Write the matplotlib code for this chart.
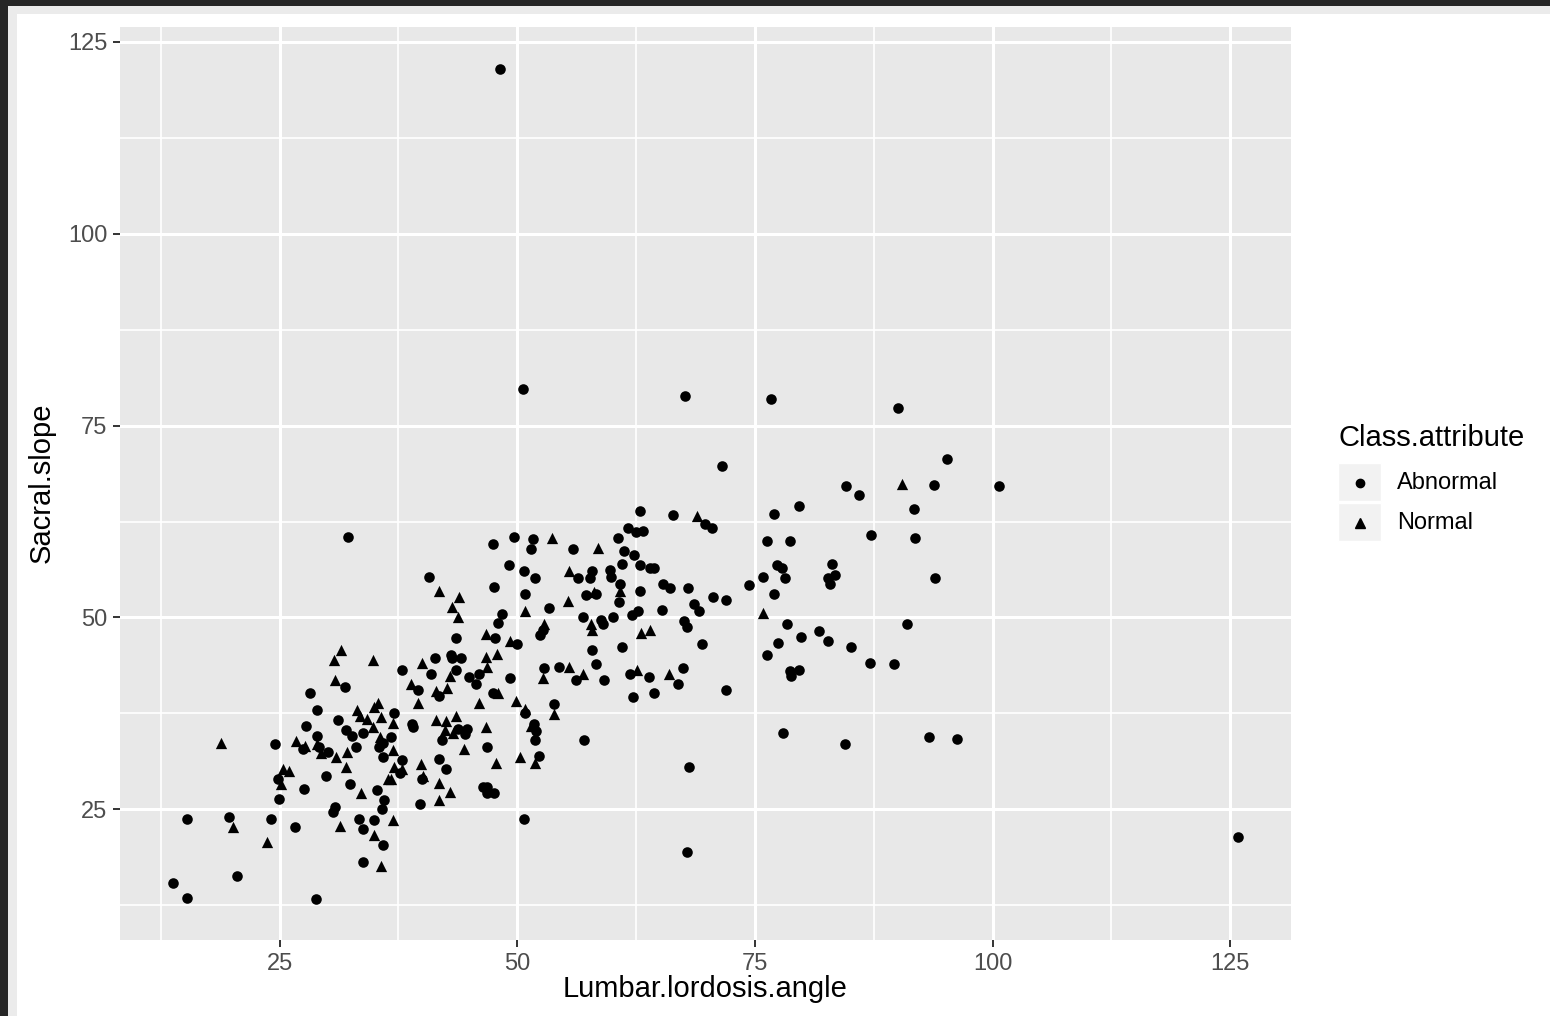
import matplotlib
matplotlib.use("Agg")
import matplotlib.pyplot as plt
from matplotlib.patches import Rectangle
from matplotlib.lines import Line2D
import numpy as np

# values (Lumbar.lordosis.angle, Sacral.slope)
abnormal_x = [
    48.2, 50.6, 67.6, 76.7, 90.1, 95.2, 71.5, 100.7, 84.6, 85.9, 93.8, 91.7, 79.6, 87.2, 91.8,
    93.9, 91.0, 89.6, 87.1, 85.1, 93.3, 96.3, 84.5, 78.0, 68.1, 67.9, 50.7, 125.8, 32.2, 72.0,
    62.9, 66.4, 69.7, 70.5, 77.0, 61.6, 62.5, 63.2, 76.3, 78.7, 62.3, 62.9, 64.0, 64.4, 83.1,
    77.3, 77.9, 75.9, 78.2, 82.7, 83.4, 82.9, 74.4, 65.3, 66.1, 68.0, 62.9, 77.0, 70.6, 72.0,
    68.6, 69.1, 65.2, 62.7, 62.1, 67.5, 67.9, 69.4, 78.4, 77.4, 79.8, 81.7, 82.7,
    76.3, 78.7, 79.6, 78.8, 63.9, 67.4, 66.9, 64.4, 62.2,
    60.6, 47.4, 49.7, 51.6, 51.4, 55.9, 61.2, 61.0, 49.1, 50.7, 51.9, 40.7, 56.4, 57.6, 57.9,
    59.8, 59.9, 60.8, 47.6, 50.8, 57.2, 58.3, 60.7, 53.3, 48.4, 48.0, 56.9, 58.8, 59.0, 60.1,
    52.7, 52.4, 43.6, 47.7, 50.0, 57.9, 61.0,
    58.3, 52.8, 54.4, 56.2, 59.1, 61.9, 37.9, 41.3, 43.0, 43.1, 44.1, 40.9, 43.6, 44.9, 46.0,
    45.7, 49.2, 39.5, 41.8, 47.4, 53.9, 50.8, 37.0, 38.9, 39.0, 43.8, 44.7, 44.5, 51.8, 52.0,
    51.9, 42.1, 46.8, 57.0, 36.7, 37.9, 41.8, 52.3, 42.5,
    37.7, 40.0, 39.8, 46.4, 46.8, 46.8, 47.6,
    31.9, 28.2, 28.9, 31.1, 27.8, 32.0, 32.6, 33.8, 28.9, 24.5, 27.5, 29.1, 30.1, 33.0, 35.9,
    35.5, 35.9,
    24.8, 24.9, 27.6, 29.9, 32.4, 35.2, 36.0, 35.8, 30.6, 30.8, 15.3, 19.7, 24.1, 26.6, 33.3,
    33.8, 34.9, 35.9, 33.8, 20.5, 13.8, 15.2, 28.8,
]
abnormal_y = [
    121.5, 79.8, 78.9, 78.5, 77.3, 70.6, 69.7, 67.1, 67.1, 66.0, 67.3, 64.1, 64.5, 60.8, 60.3,
    55.2, 49.2, 43.9, 44.1, 46.2, 34.4, 34.2, 33.5, 35.0, 30.5, 19.4, 23.8, 21.4, 60.5, 40.6,
    63.9, 63.4, 62.2, 61.7, 63.5, 61.6, 61.1, 61.2, 59.9, 59.9, 58.1, 56.9, 56.4, 56.4, 57.0,
    56.8, 56.4, 55.3, 55.2, 55.1, 55.5, 54.3, 54.2, 54.3, 53.8, 53.8, 53.5, 53.1, 52.7, 52.3,
    51.8, 50.8, 51.0, 50.8, 50.3, 49.5, 48.7, 46.6, 49.1, 46.7, 47.4, 48.2, 47.0,
    45.1, 43.0, 43.2, 42.4, 42.2, 43.4, 41.3, 40.1, 39.7,
    60.4, 59.6, 60.5, 60.2, 58.9, 58.9, 58.6, 57.0, 56.8, 56.0, 55.2, 55.3, 55.2, 55.2, 56.0,
    56.2, 55.3, 54.3, 54.0, 53.1, 52.9, 53.0, 52.0, 51.2, 50.5, 49.3, 50.1, 49.7, 49.1, 50.0,
    48.4, 47.7, 47.3, 47.3, 46.6, 45.8, 46.2,
    44.0, 43.4, 43.5, 41.8, 41.9, 42.7, 43.2, 44.7, 45.1, 44.7, 44.7, 42.7, 43.2, 42.2, 42.7,
    41.4, 42.1, 40.5, 39.8, 40.1, 38.7, 37.5, 37.6, 36.1, 35.7, 35.5, 35.5, 34.8, 36.1, 35.2,
    34.0, 34.0, 33.1, 34.0, 34.4, 31.5, 31.6, 32.0, 30.3,
    29.8, 29.0, 25.7, 27.9, 27.9, 27.2, 27.1,
    40.9, 40.1, 38.0, 36.7, 35.9, 35.3, 34.6, 34.9, 34.6, 33.5, 32.9, 33.1, 32.5, 33.1, 33.6,
    33.1, 31.8,
    29.0, 26.3, 27.6, 29.4, 28.3, 27.5, 26.2, 25.1, 24.7, 25.3, 23.8, 24.0, 23.7, 22.7, 23.8,
    22.5, 23.6, 20.4, 18.2, 16.3, 15.4, 13.5, 13.4,
]
normal_x = [
    90.5, 68.9, 75.9, 63.0, 64.0, 62.6, 66.0, 53.7, 58.5, 55.4, 60.8, 41.8, 43.9, 43.1, 43.8,
    55.3, 58.1, 50.8, 57.8, 57.9, 52.8, 46.7, 49.2, 52.7, 55.4, 56.9, 40.0, 46.7, 47.9, 46.8,
    42.9, 38.8, 41.4, 42.6, 39.6, 46.0, 48.0, 49.9, 53.9, 50.8, 36.9, 41.4, 42.5, 43.5, 42.4,
    43.2, 46.7, 51.4, 44.4, 36.9, 39.9, 47.8, 50.3, 51.9, 37.0, 37.9, 36.7, 40.1, 41.8, 42.9,
    41.8, 36.9,
    31.5, 30.7, 34.8, 30.8, 35.3, 33.1, 34.9, 33.5, 34.2, 35.7, 34.8, 18.8, 26.7, 27.7, 28.9,
    29.3, 30.9, 32.1, 35.6, 25.3, 26.0, 32.0,
    25.1, 33.6, 36.4, 20.1, 23.7, 31.3, 34.9, 35.7,
]
normal_y = [
    67.4, 63.2, 50.6, 48.0, 48.4, 43.1, 42.6, 60.3, 59.0, 56.0, 53.5, 53.4, 52.7, 51.4, 50.0,
    52.2, 53.3, 50.8, 49.1, 48.4, 49.2, 47.9, 46.9, 42.1, 43.5, 42.7, 44.1, 44.8, 45.2, 43.6,
    42.4, 41.3, 40.4, 40.8, 38.8, 38.9, 40.1, 39.1, 37.4, 38.1, 36.3, 36.7, 36.5, 37.2, 35.4,
    35.0, 35.7, 35.9, 32.9, 32.7, 30.9, 31.0, 31.8, 31.0, 30.5, 30.3, 29.0, 29.4, 28.5, 27.3,
    26.2, 23.6,
    45.8, 44.5, 44.4, 41.9, 38.9, 37.9, 38.3, 37.2, 36.8, 37.0, 35.8, 33.6, 33.9, 33.3, 33.5,
    32.3, 31.8, 32.5, 34.4, 30.3, 30.0, 30.5,
    28.3, 27.1, 28.9, 22.7, 20.8, 22.9, 21.7, 17.6,
]
x_ticks = [25, 50, 75, 100, 125]
y_ticks = [25, 50, 75, 100, 125]
classes = ["Abnormal", "Normal"]

W, H = 1550, 1016
plt.rcParams["font.family"] = ["Liberation Sans", "DejaVu Sans"]

fig = plt.figure(figsize=(W / 100, H / 100), dpi=100)
fig.patch.set_facecolor("#262626")
fig.add_artist(Rectangle((8 / W, 0), 1, (H - 6) / H, transform=fig.transFigure,
                         facecolor="#ebebeb", edgecolor="none", zorder=-10))
fig.add_artist(Rectangle((17 / W, 0), 1, (H - 14) / H, transform=fig.transFigure,
                         facecolor="white", edgecolor="none", zorder=-9))

ax = fig.add_axes([120 / W, (H - 940) / H, (1291 - 120) / W, (940 - 27) / H])
ax.set_facecolor("#e8e8e8")
for s in ax.spines.values():
    s.set_visible(False)

# ggplot-like 5% expansion of the data range
all_x = np.array(abnormal_x + normal_x)
all_y = np.array(abnormal_y + normal_y)
rx = all_x.max() - all_x.min()
ry = all_y.max() - all_y.min()
ax.set_xlim(all_x.min() - 0.05 * rx, all_x.max() + 0.05 * rx)
ax.set_ylim(all_y.min() - 0.05 * ry, all_y.max() + 0.05 * ry)

ax.set_xticks(x_ticks)
ax.set_yticks(y_ticks)
ax.set_xticks([t - 12.5 for t in x_ticks], minor=True)
ax.set_yticks([t - 12.5 for t in y_ticks], minor=True)
ax.grid(which="major", color="white", linewidth=2.2)
ax.grid(which="minor", color="white", linewidth=1.2)
ax.set_axisbelow(True)
ax.tick_params(which="major", length=5, width=1.4, color="#333333",
               labelcolor="#4d4d4d", labelsize=17, pad=4)
ax.tick_params(which="minor", length=0)

ax.scatter(abnormal_x, abnormal_y, s=58, marker="o", color="black", linewidths=0, zorder=3)
ax.scatter(normal_x, normal_y, s=66, marker="^", color="black", linewidths=0, zorder=3)

fig.text(705 / W, 1 - 989 / H, "Lumbar.lordosis.angle", ha="center", va="center",
         fontsize=21, color="black")
fig.text(42 / W, 1 - 483 / H, "Sacral.slope", ha="center", va="center",
         rotation=90, fontsize=21, color="black")

# legend drawn by hand
fig.text(1338 / W, 1 - 438 / H, "Class.attribute", ha="left", va="center",
         fontsize=21, color="black")
markers = ["o", "^"]
msizes = [6, 7]
for i, lab in enumerate(classes):
    top = 463 + i * 40
    fig.add_artist(Rectangle((1338 / W, 1 - (top + 38) / H), 43 / W, 38 / H,
                             transform=fig.transFigure, facecolor="#f2f2f2",
                             edgecolor="white", linewidth=1))
    cy = 1 - (top + 20) / H
    fig.add_artist(Line2D([1359.5 / W], [cy], transform=fig.transFigure, marker=markers[i],
                          markersize=msizes[i], color="black", linestyle="none"))
    fig.text(1397 / W, cy, lab, ha="left", va="center", fontsize=17, color="black")

fig.savefig("out.png", dpi=100)
